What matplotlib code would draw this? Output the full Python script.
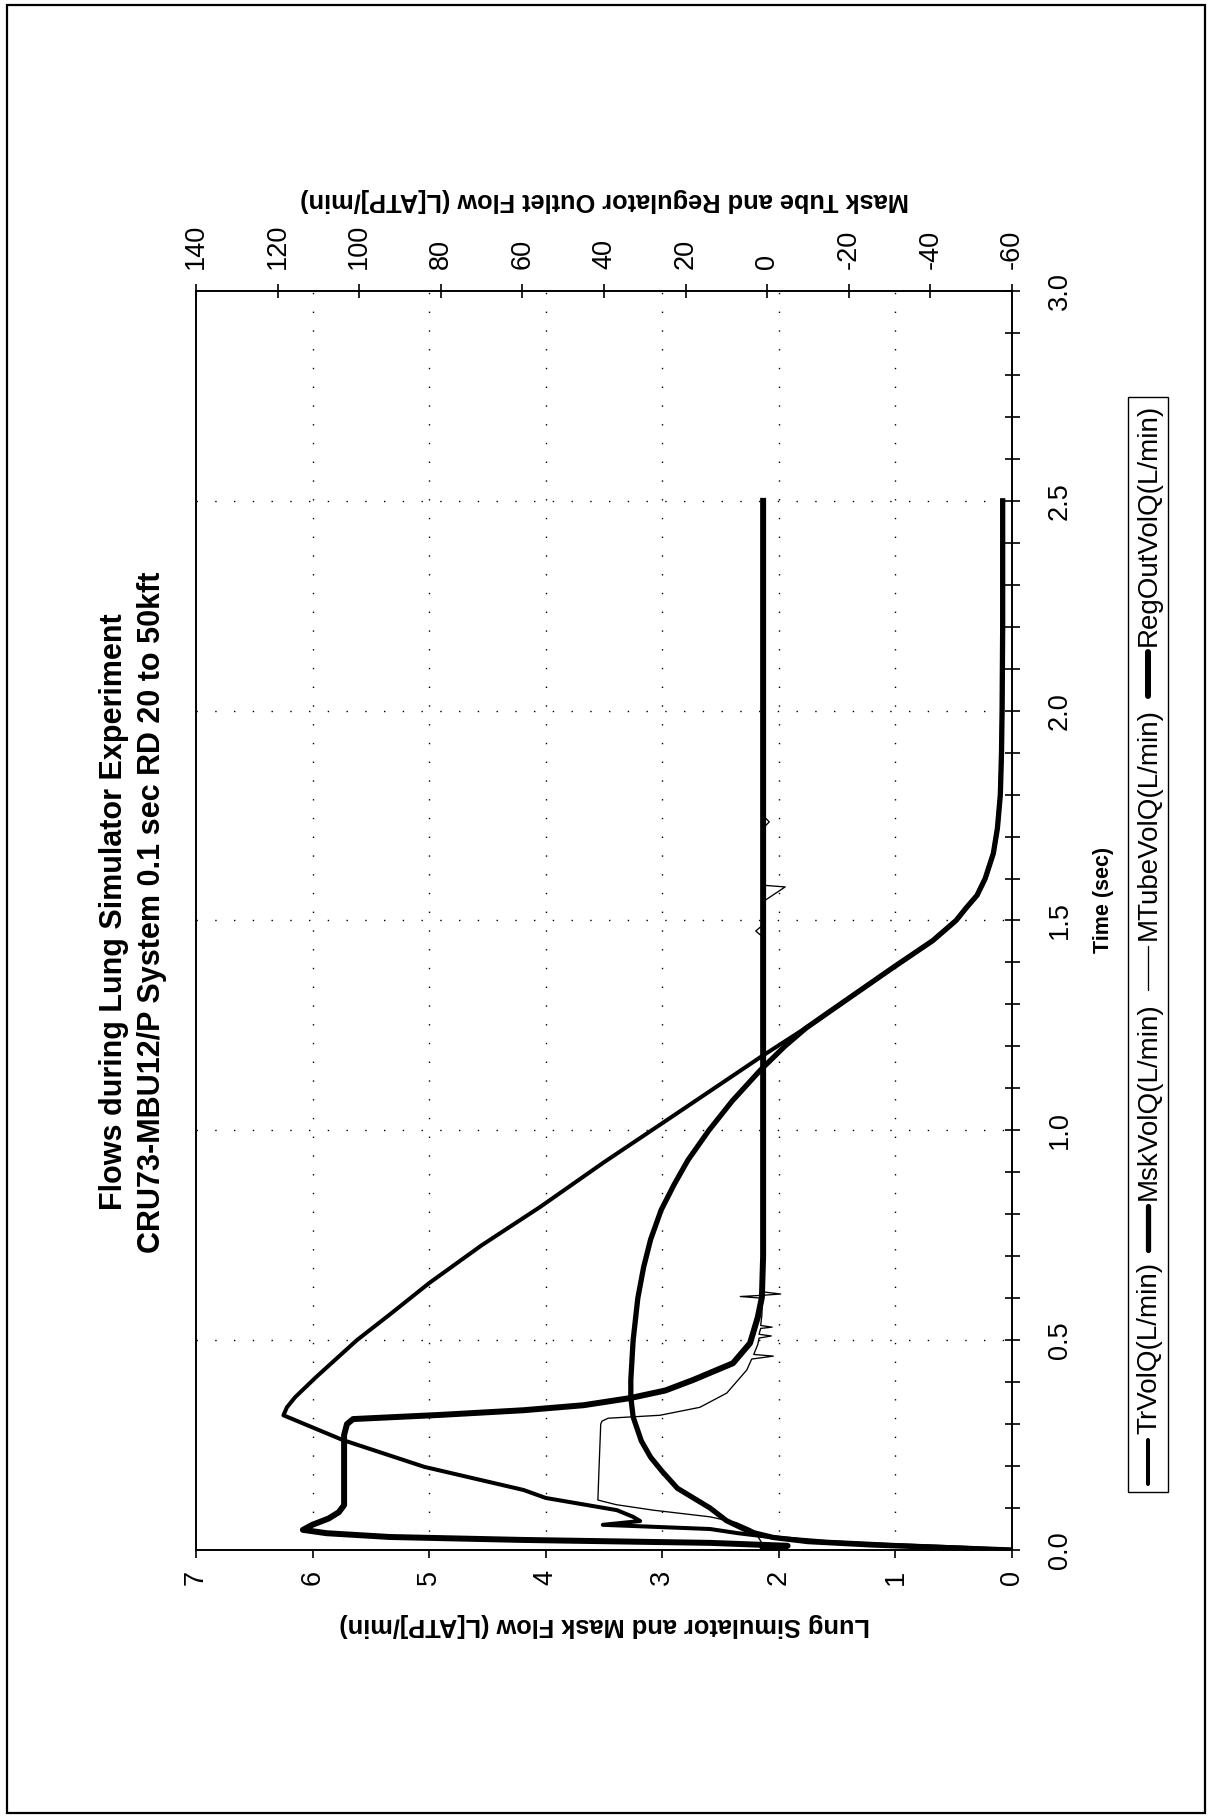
import matplotlib
matplotlib.use("Agg")
import numpy as np
import matplotlib.pyplot as plt
from matplotlib.lines import Line2D
from matplotlib.patches import Rectangle
from matplotlib.ticker import MultipleLocator
from matplotlib import font_manager

# ---------------------------------------------------------------------------
# Data: time (s) and flows.  Lung simulator / mask flows use the lower axis,
# mask tube / regulator outlet flows use the upper axis.
# ---------------------------------------------------------------------------
tr_time = [0.000, 0.006, 0.012, 0.020, 0.030, 0.040, 0.050, 0.060, 0.069, 0.079,
           0.095, 0.124, 0.143, 0.198, 0.262, 0.321, 0.340, 0.364, 0.412, 0.500,
           0.565, 0.636, 0.726, 0.817, 0.924, 1.017, 1.131, 1.174, 1.262, 1.388,
           1.452, 1.500, 1.531, 1.560, 1.600, 1.660, 1.720, 1.800, 1.900, 2.000,
           2.200, 2.500]
tr_flow = [0.00, 0.45, 1.00, 1.60, 2.05, 2.35, 2.59, 3.51, 3.19, 3.25,
           3.39, 4.00, 4.19, 5.04, 5.74, 6.25, 6.22, 6.15, 5.97, 5.62,
           5.32, 5.00, 4.55, 4.05, 3.50, 3.00, 2.39, 2.16, 1.67, 1.02,
           0.68, 0.48, 0.39, 0.30, 0.23, 0.16, 0.125, 0.10, 0.09, 0.085,
           0.08, 0.08]

msk_time = [0.000, 0.006, 0.012, 0.020, 0.030, 0.040, 0.050, 0.070, 0.100, 0.147,
            0.187, 0.221, 0.260, 0.317, 0.364, 0.405, 0.500, 0.600, 0.674, 0.740,
            0.810, 0.870, 0.929, 1.000, 1.070, 1.143, 1.200, 1.243, 1.280, 1.388,
            1.452, 1.500, 1.531, 1.560, 1.600, 1.660, 1.720, 1.800, 1.900, 2.000,
            2.200, 2.500]
msk_flow = [0.00, 0.60, 1.20, 1.75, 2.05, 2.20, 2.30, 2.45, 2.59, 2.87,
            3.00, 3.10, 3.18, 3.25, 3.27, 3.27, 3.25, 3.21, 3.16, 3.10,
            3.01, 2.90, 2.78, 2.60, 2.40, 2.16, 1.95, 1.77, 1.58, 1.02,
            0.68, 0.48, 0.39, 0.30, 0.23, 0.16, 0.125, 0.10, 0.09, 0.085,
            0.08, 0.08]

mtube_time = [0.000, 0.010, 0.020, 0.035, 0.050, 0.065, 0.079, 0.095, 0.108, 0.119,
              0.200, 0.300, 0.307, 0.314, 0.321, 0.340, 0.374, 0.429, 0.455, 0.462,
              0.466, 0.490, 0.505, 0.510, 0.514, 0.528, 0.531, 0.535, 0.560, 0.600,
              0.604, 0.607, 0.610, 0.615, 0.700, 1.000, 1.460, 1.475, 1.490, 1.545,
              1.580, 1.584, 1.600, 1.720, 1.735, 1.750, 2.000, 2.500]
mtube_flow = [1.0, 1.0, 1.5, 2.5, 4.0, 7.5, 14.0, 28.0, 37.0, 41.5,
              41.2, 40.8, 40.5, 39.0, 26.3, 16.5, 9.9, 5.0, 3.8, -1.5,
              3.3, 2.3, 2.0, -1.0, 2.0, 1.6, -1.2, 1.6, 1.3, 1.2,
              6.6, 1.0, -3.3, 1.0, 1.0, 1.0, 1.0, 2.8, 1.0, 1.0,
              -4.4, 1.0, 1.0, 1.0, -0.5, 1.0, 1.0, 1.0]

reg_time = [0.000, 0.010, 0.017, 0.024, 0.031, 0.040, 0.048, 0.060,
            0.075, 0.090, 0.107, 0.200, 0.274, 0.300, 0.312, 0.322, 0.333, 0.345,
            0.362, 0.380, 0.405, 0.445, 0.493, 0.555, 0.602, 0.700, 1.000, 1.500,
            2.000, 2.500]
reg_flow = [1.0, -5.0, 14.0, 60.0, 92.5, 108.0, 113.8, 111.5,
            107.5, 105.0, 103.7, 103.7, 103.7, 103.0, 101.5, 80.0, 59.8, 45.0,
            33.6, 25.0, 18.2, 8.4, 4.2, 2.3, 1.3, 1.0, 1.0, 1.0,
            1.0, 1.0]

lung_ticks = [0, 1, 2, 3, 4, 5, 6, 7]
lung_tick_labels = ["0", "1", "2", "3", "4", "5", "6", "7"]
tube_ticks = [-60, -40, -20, 0, 20, 40, 60, 80, 100, 120, 140]
tube_tick_labels = ["-60", "-40", "-20", "0", "20", "40", "60", "80", "100", "120", "140"]
time_ticks = [0.0, 0.5, 1.0, 1.5, 2.0, 2.5, 3.0]
time_tick_labels = ["0.0", "0.5", "1.0", "1.5", "2.0", "2.5", "3.0"]

title_lines = ["Flows during Lung Simulator Experiment",
               "CRU73-MBU12/P System 0.1 sec RD 20 to 50kft"]
lung_axis_title = "Lung Simulator and Mask Flow (L[ATP]/min)"
tube_axis_title = "Mask Tube and Regulator Outlet Flow (L[ATP]/min)"
time_axis_title = "Time (sec)"
legend_names = ["TrVolQ(L/min)", "MskVolQ(L/min)", "MTubeVolQ(L/min)", "RegOutVolQ(L/min)"]

# ---------------------------------------------------------------------------
W, H, DPI = 1210, 1819, 100
PT = DPI / 72.0  # pixels per point

installed = {f.name for f in font_manager.fontManager.ttflist}
plt.rcParams["font.family"] = [n for n in ["Liberation Sans", "DejaVu Sans"] if n in installed]
plt.rcParams["axes.unicode_minus"] = False
plt.rcParams["path.simplify"] = False


def fxy(x, y):
    """pixel position (origin top-left) -> figure fraction"""
    return x / W, 1.0 - y / H


fig = plt.figure(figsize=(W / DPI, H / DPI), dpi=DPI)
fig.patch.set_facecolor("white")

# plot frame (landscape chart turned on its side)
X0, X1, Y0, Y1 = 196, 1012, 291, 1550
ax = fig.add_axes([X0 / W, 1 - Y1 / H, (X1 - X0) / W, (Y1 - Y0) / H])
ax.set_xlim(7, 0)
ax.set_ylim(0, 3)
ax2 = ax.twiny()
ax2.set_xlim(140, -60)

for a in (ax, ax2):
    for s in a.spines.values():
        s.set_linewidth(1.2)
        s.set_color("black")

# dotted grid from the lung-flow scale and the time scale
dot = (0, (1.0, 12.5))
for v in lung_ticks[1:-1]:
    ax.axvline(v, color="black", lw=1.0, ls=dot, zorder=0.5)
for t in time_ticks[1:-1]:
    ax.axhline(t, color="black", lw=1.0, ls=dot, zorder=0.5)

# series
ax.plot(tr_flow, tr_time, color="black", lw=2.9, solid_joinstyle="round", zorder=3)
ax.plot(msk_flow, msk_time, color="black", lw=3.8, solid_joinstyle="round", zorder=3)
ax2.plot(mtube_flow, mtube_time, color="black", lw=0.95, solid_joinstyle="round", zorder=3)
ax2.plot(reg_flow, reg_time, color="black", lw=4.3, solid_joinstyle="round", zorder=3)

TICK_FS = 19.5
# lower scale (lung simulator / mask)
ax.set_xticks(lung_ticks)
ax.set_xticklabels(lung_tick_labels, rotation=90)
ax.tick_params(axis="x", bottom=True, top=False, direction="out",
               length=8 / PT, width=1.2, pad=12 / PT, labelsize=TICK_FS)
# time scale on the right
ax.yaxis.tick_right()
ax.set_yticks(time_ticks)
ax.set_yticklabels(time_tick_labels, rotation=90, va="center")
ax.yaxis.set_minor_locator(MultipleLocator(0.1))
ax.tick_params(axis="y", which="both", left=False, right=True, direction="inout",
               length=15 / PT, width=1.2, pad=27 / PT, labelsize=TICK_FS)
# upper scale (mask tube / regulator)
ax2.set_xticks(tube_ticks)
ax2.set_xticklabels(tube_tick_labels, rotation=90)
ax2.tick_params(axis="x", top=True, bottom=False, direction="inout",
                length=14 / PT, width=1.2, pad=15 / PT, labelsize=TICK_FS)

# titles
fig.text(*fxy(114, 912), title_lines[0], rotation=90, ha="center", va="center",
         fontsize=22, fontweight="bold")
fig.text(*fxy(152, 912), title_lines[1], rotation=90, ha="center", va="center",
         fontsize=22, fontweight="bold")
fig.text(*fxy(605, 1625), lung_axis_title, rotation=180, ha="center", va="center",
         fontsize=18.3, fontweight="bold")
fig.text(*fxy(605, 200), tube_axis_title, rotation=180, ha="center", va="center",
         fontsize=18.3, fontweight="bold")
fig.text(*fxy(1104, 900), time_axis_title, rotation=90, ha="center", va="center",
         fontsize=15.5, fontweight="bold")

# legend, stacked along the time direction
renderer = fig.canvas.get_renderer()
LX0, LX1, LBOT = 1128, 1168, 1492
cx = (LX0 + LX1) / 2
legend_lw = [2.9, 3.8, 0.95, 4.3]
SAMPLE = 44
y = LBOT - 8
for name, lw in zip(legend_names, legend_lw):
    xa, ya = fxy(cx, y)
    _, yb = fxy(cx, y - SAMPLE)
    fig.add_artist(Line2D([xa, xa], [ya, yb], transform=fig.transFigure,
                          color="black", lw=lw, solid_capstyle="round"))
    txt = fig.text(*fxy(cx + 1, y - SAMPLE - 6), name, rotation=90, ha="center",
                   va="bottom", fontsize=20)
    bb = txt.get_window_extent(renderer)
    y = (H - bb.y1) - 12
ltop = y + 12 - 7
fig.add_artist(Rectangle(fxy(LX0, LBOT), (LX1 - LX0) / W, (LBOT - ltop) / H,
                         transform=fig.transFigure, fill=False, ec="black", lw=1.0))

# page border
fig.add_artist(Rectangle(fxy(7, 1813), (1205 - 7) / W, (1813 - 5) / H,
                         transform=fig.transFigure, fill=False, ec="black", lw=1.6))

fig.savefig("out.png", dpi=DPI, facecolor="white")
